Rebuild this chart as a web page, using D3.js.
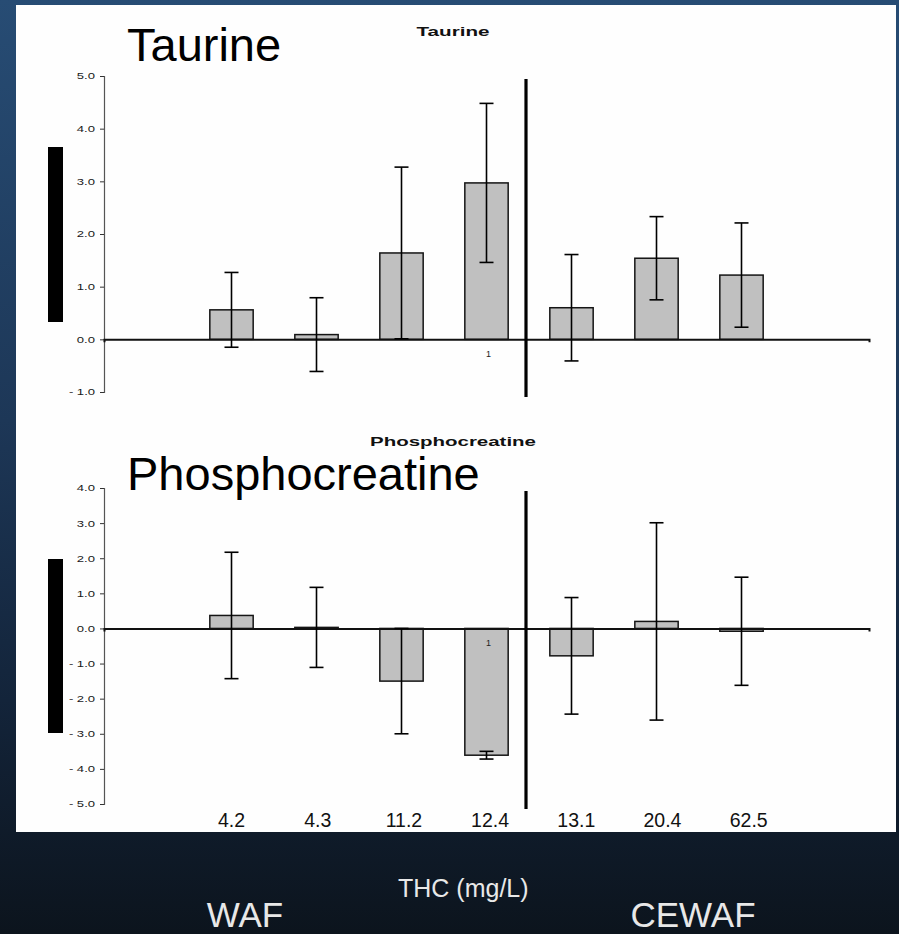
<!DOCTYPE html>
<html>
<head>
<meta charset="utf-8">
<script src="https://cdn.jsdelivr.net/npm/d3@7"></script>
<style>
  body { margin: 0; background: #0d1520; }
  svg { display: block; font-family: "Liberation Sans", Arial, sans-serif; }
</style>
</head>
<body>
<svg id="chart"></svg>
<script>
// THC concentrations (mg/L), one bar per concentration
const categories = ["4.2", "4.3", "11.2", "12.4", "13.1", "20.4", "62.5"];

// taurine: mean change and error (half-length of bar)
const taurineMean = [0.56, 0.09, 1.64, 2.97, 0.60, 1.54, 1.22];
const taurineErr = [0.71, 0.70, 1.63, 1.51, 1.01, 0.79, 0.99];
const taurineTicks = [-1, 0, 1, 2, 3, 4, 5];

// phosphocreatine: mean change and error
const pcrMean = [0.37, 0.03, -1.50, -3.61, -0.78, 0.20, -0.08];
const pcrErr = [1.80, 1.14, 1.50, 0.11, 1.66, 2.81, 1.54];
const pcrTicks = [-5, -4, -3, -2, -1, 0, 1, 2, 3, 4];

// small "1" notes under the 12.4 bar
const noteIndex = 3;
const noteLabel = "1";

const groupLabels = ["WAF", "CEWAF"];
const axisTitle = "THC (mg/L)";

const WIDTH = 899;
const HEIGHT = 934;

let svg = d3.select("#chart")
  .attr("width", WIDTH)
  .attr("height", HEIGHT);

// background gradient
let grad = svg.append("defs")
  .append("linearGradient")
    .attr("id", "bg")
    .attr("x1", 0).attr("y1", 0)
    .attr("x2", 0).attr("y2", 1);
[["0%", "#274c74"], ["45%", "#1d3757"], ["75%", "#13243a"], ["100%", "#0c141d"]]
  .forEach(s => grad.append("stop").attr("offset", s[0]).attr("stop-color", s[1]));

svg.append("rect")
  .attr("width", WIDTH)
  .attr("height", HEIGHT)
  .attr("fill", "url(#bg)");

// white slide panel
svg.append("rect")
  .attr("x", 16).attr("y", 5)
  .attr("width", 880).attr("height", 827)
  .attr("fill", "#fefefe");

// shared x scale: one empty slot either side of the seven bars
let xScale = d3.scaleBand()
  .domain(d3.range(-1, categories.length + 1))
  .range([104, 869])
  .paddingInner(0)
  .paddingOuter(0);

const BAR_W = xScale.bandwidth() * 0.51;
const CAP_W = 14;

/**
 * Stretch text horizontally like the squashed slide fonts
 */
function stretch(sel, factor) {
  sel.each(function() {
    let w = this.getComputedTextLength();
    d3.select(this)
      .attr("textLength", w * factor)
      .attr("lengthAdjust", "spacingAndGlyphs");
  });
}

/**
 * Draw one bar panel
 */
function drawPanel(opts) {
  let yScale = d3.scaleLinear()
    .domain(opts.domain)
    .range(opts.range);

  let g = svg.append("g");

  // y axis
  let yAxis = g.append("g")
    .attr("transform", `translate(${xScale.range()[0]},0)`)
    .call(d3.axisLeft(yScale)
      .tickValues(opts.ticks)
      .tickSize(4)
      .tickSizeOuter(4)
      .tickPadding(5)
      .tickFormat(d3.format(".1f")));
  yAxis.select(".domain").attr("stroke", "#555").attr("stroke-width", 1.2);
  yAxis.selectAll(".tick line").attr("stroke", "#333");
  yAxis.selectAll(".tick text")
    .attr("font-size", 9)
    .attr("fill", "#1a1a1a")
    .text(d => d3.format(".1f")(d).replace("-", "- ").replace("−", "- "))
    .call(stretch, 1.45);

  // bars
  g.selectAll("rect.bar")
    .data(opts.mean)
    .enter()
    .append("rect")
      .attr("class", "bar")
      .attr("x", (d, i) => xScale(i) + (xScale.bandwidth() - BAR_W) / 2)
      .attr("y", d => yScale(Math.max(0, d)))
      .attr("width", BAR_W)
      .attr("height", d => Math.abs(yScale(d) - yScale(0)))
      .attr("fill", "#c0c0c0")
      .attr("stroke", "#151515")
      .attr("stroke-width", 1.5);

  // x axis along zero
  let xAxis = g.append("g")
    .attr("transform", `translate(0,${yScale(0)})`)
    .call(d3.axisBottom(xScale).tickValues([]).tickSizeOuter(3));
  xAxis.select(".domain").attr("stroke", "#111").attr("stroke-width", 2);

  // error bars
  let cx = i => xScale(i) + xScale.bandwidth() / 2;
  let err = g.selectAll("g.err")
    .data(opts.mean.map((m, i) => ({ m: m, e: opts.err[i], i: i })))
    .enter()
    .append("g")
      .attr("class", "err")
      .attr("stroke", "#000")
      .attr("stroke-width", 1.6);
  err.append("line")
    .attr("x1", d => cx(d.i)).attr("x2", d => cx(d.i))
    .attr("y1", d => yScale(d.m - d.e))
    .attr("y2", d => yScale(d.m + d.e));
  [-1, 1].forEach(s => {
    err.append("line")
      .attr("x1", d => cx(d.i) - CAP_W / 2)
      .attr("x2", d => cx(d.i) + CAP_W / 2)
      .attr("y1", d => yScale(d.m + s * d.e))
      .attr("y2", d => yScale(d.m + s * d.e));
  });

  // WAF / CEWAF divider
  let divX = xScale(4) - 3;
  g.append("line")
    .attr("x1", divX).attr("x2", divX)
    .attr("y1", opts.range[1] + 3)
    .attr("y2", opts.range[0] + 5)
    .attr("stroke", "#000")
    .attr("stroke-width", 3.2);

  // note under 12.4 bar
  g.append("text")
    .attr("x", cx(noteIndex) + 2)
    .attr("y", yScale(0) + 18)
    .attr("text-anchor", "middle")
    .attr("font-size", 9)
    .attr("fill", "#222")
    .text(noteLabel);

  // small chart title
  g.append("text")
    .attr("x", 453)
    .attr("y", opts.smallTitleY)
    .attr("text-anchor", "middle")
    .attr("font-size", 13)
    .attr("font-weight", "bold")
    .attr("fill", "#111")
    .attr("textLength", opts.smallTitleW)
    .attr("lengthAdjust", "spacingAndGlyphs")
    .text(opts.title);

  // big slide title
  g.append("text")
    .attr("x", 127)
    .attr("y", opts.bigTitleY)
    .attr("font-size", 47)
    .attr("fill", "#000")
    .text(opts.title);

  // black side bar
  g.append("rect")
    .attr("x", 48)
    .attr("y", opts.sideBar[0])
    .attr("width", 15)
    .attr("height", opts.sideBar[1] - opts.sideBar[0])
    .attr("fill", "#000");

  return yScale;
}

drawPanel({
  title: "Taurine",
  mean: taurineMean,
  err: taurineErr,
  ticks: taurineTicks,
  domain: [-1, 5],
  range: [392, 76],
  smallTitleY: 36,
  smallTitleW: 73,
  bigTitleY: 61,
  sideBar: [147, 322]
});

drawPanel({
  title: "Phosphocreatine",
  mean: pcrMean,
  err: pcrErr,
  ticks: pcrTicks,
  domain: [-5, 4],
  range: [804, 488],
  smallTitleY: 446,
  smallTitleW: 166,
  bigTitleY: 490,
  sideBar: [559, 733]
});

// concentration labels
svg.append("g")
  .selectAll("text")
  .data(categories)
  .enter()
  .append("text")
    .attr("x", (d, i) => xScale(i) + xScale.bandwidth() / 2 + i * 1.2)
    .attr("y", 827)
    .attr("text-anchor", "middle")
    .attr("font-size", 19.5)
    .attr("fill", "#111")
    .text(d => d);

// labels on the dark background
svg.append("text")
  .attr("x", 245).attr("y", 927)
  .attr("text-anchor", "middle")
  .attr("font-size", 35)
  .attr("fill", "#e8e8e8")
  .text(groupLabels[0]);

svg.append("text")
  .attr("x", 693).attr("y", 927)
  .attr("text-anchor", "middle")
  .attr("font-size", 35)
  .attr("fill", "#e8e8e8")
  .text(groupLabels[1]);

svg.append("text")
  .attr("x", 398).attr("y", 897)
  .attr("font-size", 25)
  .attr("fill", "#e8e8e8")
  .text(axisTitle);
</script>
</body>
</html>
